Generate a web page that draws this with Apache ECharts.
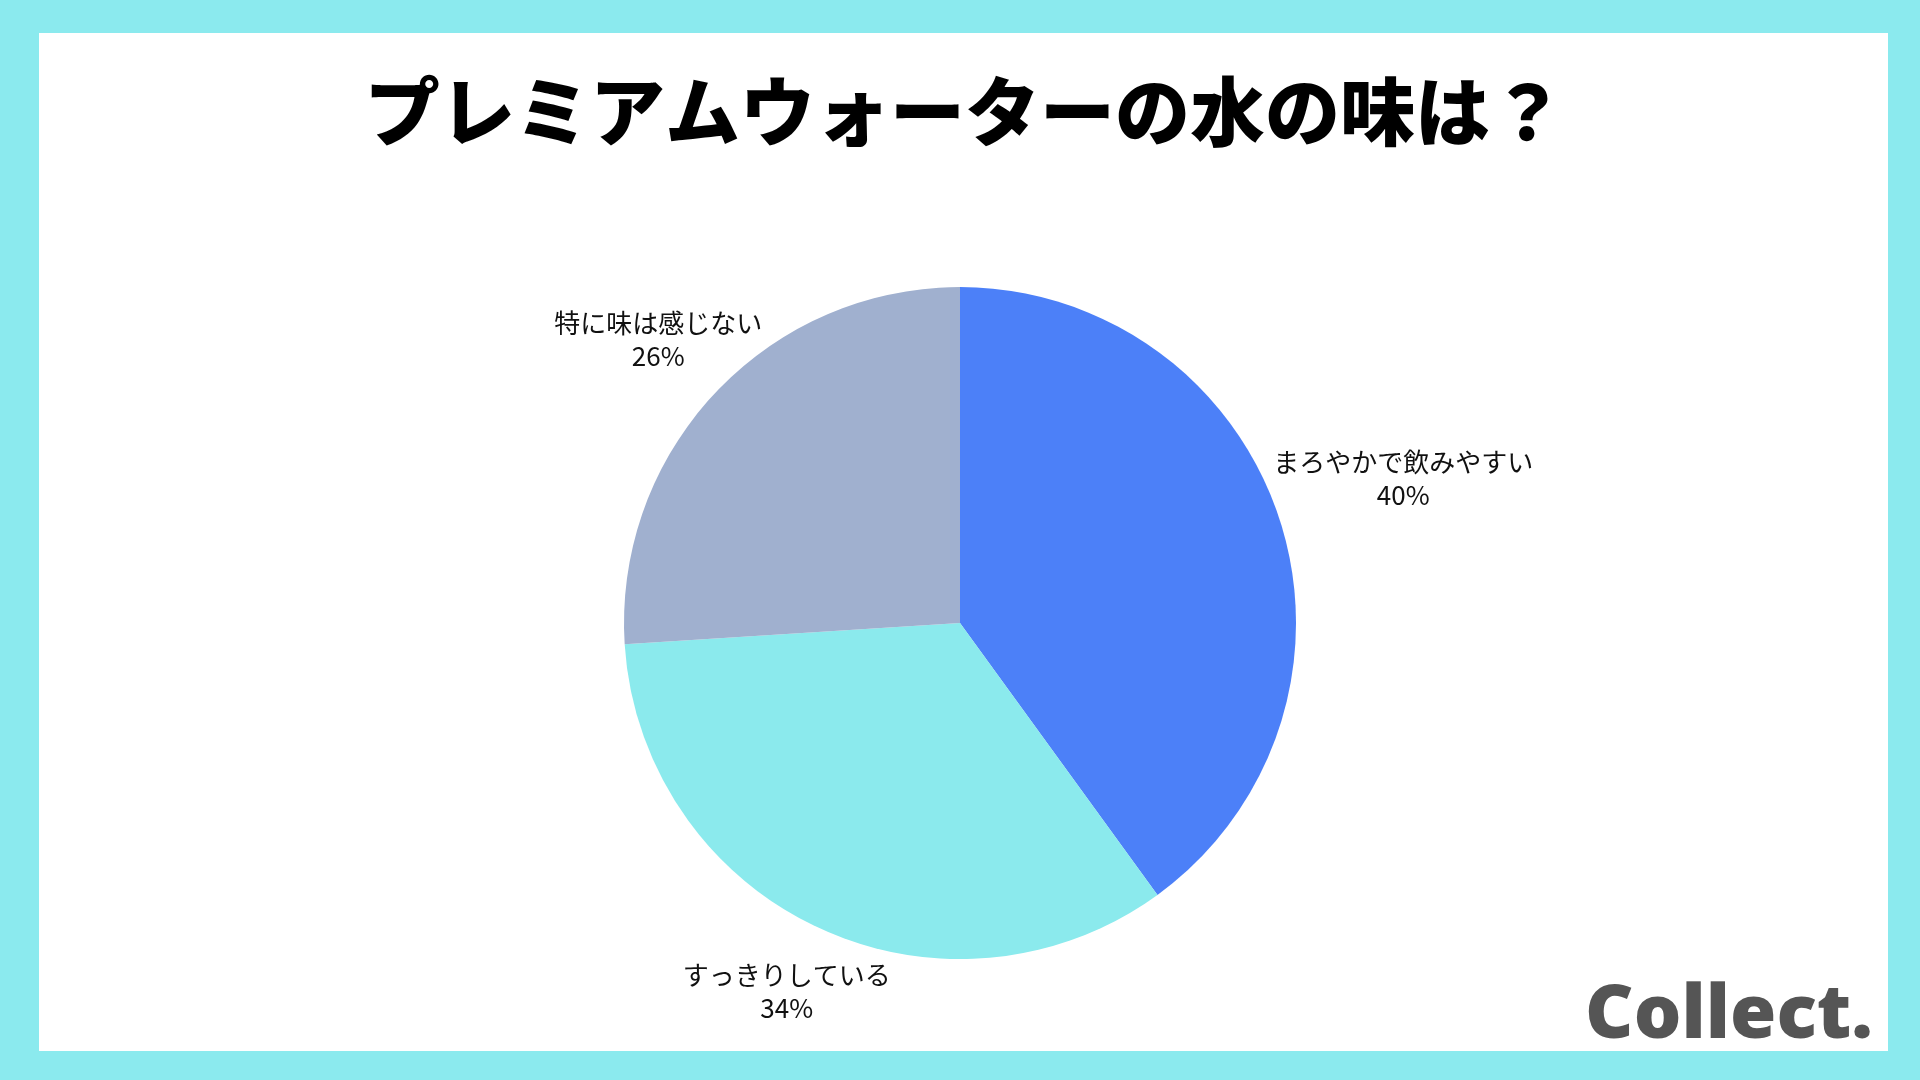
<!DOCTYPE html>
<html>
<head>
<meta charset="utf-8">
<script src="https://cdn.jsdelivr.net/npm/echarts@6/dist/echarts.min.js"></script>
<style>
html,body{margin:0;padding:0;background:#8beaee;}
#chart{width:1920px;height:1080px;}
</style>
</head>
<body>
<div id="chart"></div>
<script>
var titleText = 'プレミアムウォーターの水の味は？';
var categories = ['まろやかで飲みやすい', 'すっきりしている', '特に味は感じない'];
var values = [40, 34, 26];

var colors = ['#4c80f8', '#8beaed', '#a0b0cf'];
var labelDistFactor = [1.387, 1.211, 1.232];
var pieRadius = 336;
var centerPct = [0.5, 0.5769];

var chart = echarts.init(document.getElementById('chart'));
var total = values.reduce(function (a, b) { return a + b; }, 0);

function midAngle(idx) {
  var acc = 0;
  for (var i = 0; i < idx; i++) acc += values[i];
  return (acc + values[idx] / 2) / total * 2 * Math.PI;
}

var option = {
  backgroundColor: '#8beaee',
  animation: false,
  title: {
    text: titleText,
    left: 960,
    textAlign: 'center',
    top: 69,
    textStyle: {
      fontFamily: 'Noto Sans CJK JP',
      fontSize: 75,
      fontWeight: 900,
      color: '#000000'
    }
  },
  graphic: [
    {
      type: 'rect',
      z: -10,
      shape: { x: 39, y: 33, width: 1849, height: 1018 },
      style: { fill: '#ffffff' }
    },
    {
      type: 'text',
      z: 10,
      style: {
        x: 1873,
        y: 1017,
        align: 'right',
        verticalAlign: 'middle',
        text: 'Collect.',
        fontFamily: 'Open Sans',
        fontWeight: 800,
        fontSize: 75,
        fill: '#555555'
      }
    }
  ],
  series: [{
    type: 'pie',
    center: [(centerPct[0] * 100) + '%', (centerPct[1] * 100) + '%'],
    radius: [0, pieRadius],
    startAngle: 90,
    clockwise: true,
    color: colors,
    label: {
      show: true,
      position: 'outside',
      formatter: '{b}\n{d}%',
      fontFamily: 'Noto Sans CJK JP',
      fontSize: 26,
      lineHeight: 33,
      color: '#111111',
      align: 'center'
    },
    labelLine: { show: false },
    labelLayout: function (params) {
      var w = chart.getWidth(), h = chart.getHeight();
      var cx = w * centerPct[0], cy = h * centerPct[1];
      var a = midAngle(params.dataIndex);
      var d = pieRadius * labelDistFactor[params.dataIndex];
      return {
        x: cx + Math.sin(a) * d,
        y: cy - Math.cos(a) * d,
        align: 'center',
        verticalAlign: 'middle'
      };
    },
    data: categories.map(function (c, i) { return { name: c, value: values[i] }; })
  }]
};
chart.setOption(option);
</script>
</body>
</html>
